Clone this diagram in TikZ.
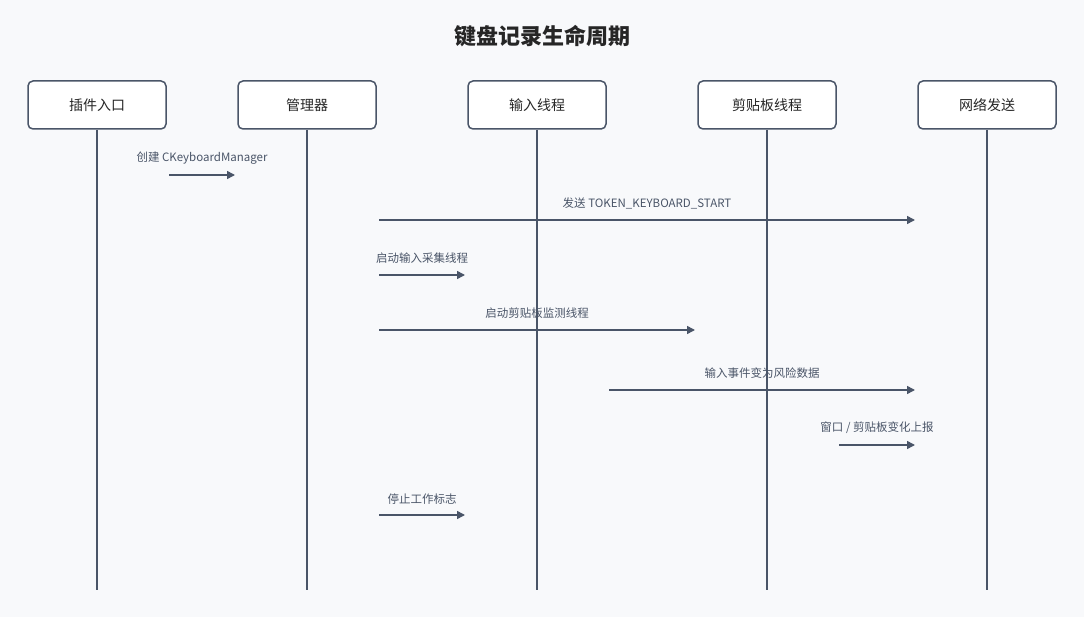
\documentclass[tikz,border=0pt]{standalone}
\usepackage{fontspec}
\setmainfont{Noto Sans CJK SC}
\usetikzlibrary{positioning,arrows.meta}
\definecolor{ink}{HTML}{4A5568}
\definecolor{paper}{HTML}{F8F9FB}
\begin{document}
\begin{tikzpicture}[x=1pt,y=-1pt,
    every actor/.style={draw=ink,line width=1.5pt,rounded corners=5pt,fill=white,minimum width=138pt,minimum height=48pt,font=\fontsize{14}{16}\selectfont,text=black!85},
    life/.style={draw=ink,line width=1.5pt},
    msg/.style={draw=ink,line width=1.5pt,-{Triangle[length=8pt,width=8pt]}},
    lbl/.style={font=\fontsize{11.5}{13}\selectfont,text=ink}]
      \fill[paper] (0,0) rectangle (1084,617);
      \useasboundingbox (0,0) rectangle (1084,617);
      \node[font=\bfseries\fontsize{22}{26}\selectfont,text=black!85] (Title) at (542,36) {键盘记录生命周期};

      \node[every actor] (Entry)  at (97,105)  {插件入口};
      \node[every actor] (Manager) at (307,105) {管理器};
      \node[every actor] (Input)  at (537,105) {输入线程};
      \node[every actor] (Clip)   at (767,105) {剪贴板线程};
      \node[every actor] (Net)    at (987,105) {网络发送};

      \foreach \a in {Entry,Manager,Input,Clip,Net}
        \draw[life] (\a.south) -- (\a.south |- 0,590);

      % messages
      \coordinate (m1a) at (169,175); \coordinate (m1b) at (235,175);
      \coordinate (m2a) at (379,220); \coordinate (m2b) at (915,220);
      \coordinate (m3a) at (379,275); \coordinate (m3b) at (465,275);
      \coordinate (m4a) at (379,330); \coordinate (m4b) at (695,330);
      \coordinate (m5a) at (609,390); \coordinate (m5b) at (915,390);
      \coordinate (m6a) at (839,445); \coordinate (m6b) at (915,445);
      \coordinate (m7a) at (379,515); \coordinate (m7b) at (465,515);

      \draw[msg] (m1a) -- node[lbl,above=7pt] {创建 CKeyboardManager} (m1b);
      \draw[msg] (m2a) -- node[lbl,above=7pt] {发送 TOKEN\_KEYBOARD\_START} (m2b);
      \draw[msg] (m3a) -- node[lbl,above=7pt] {启动输入采集线程} (m3b);
      \draw[msg] (m4a) -- node[lbl,above=7pt] {启动剪贴板监测线程} (m4b);
      \draw[msg] (m5a) -- node[lbl,above=7pt] {输入事件变为风险数据} (m5b);
      \draw[msg] (m6a) -- node[lbl,above=7pt] {窗口 / 剪贴板变化上报} (m6b);
      \draw[msg] (m7a) -- node[lbl,above=7pt] {停止工作标志} (m7b);
\end{tikzpicture}
\end{document}
